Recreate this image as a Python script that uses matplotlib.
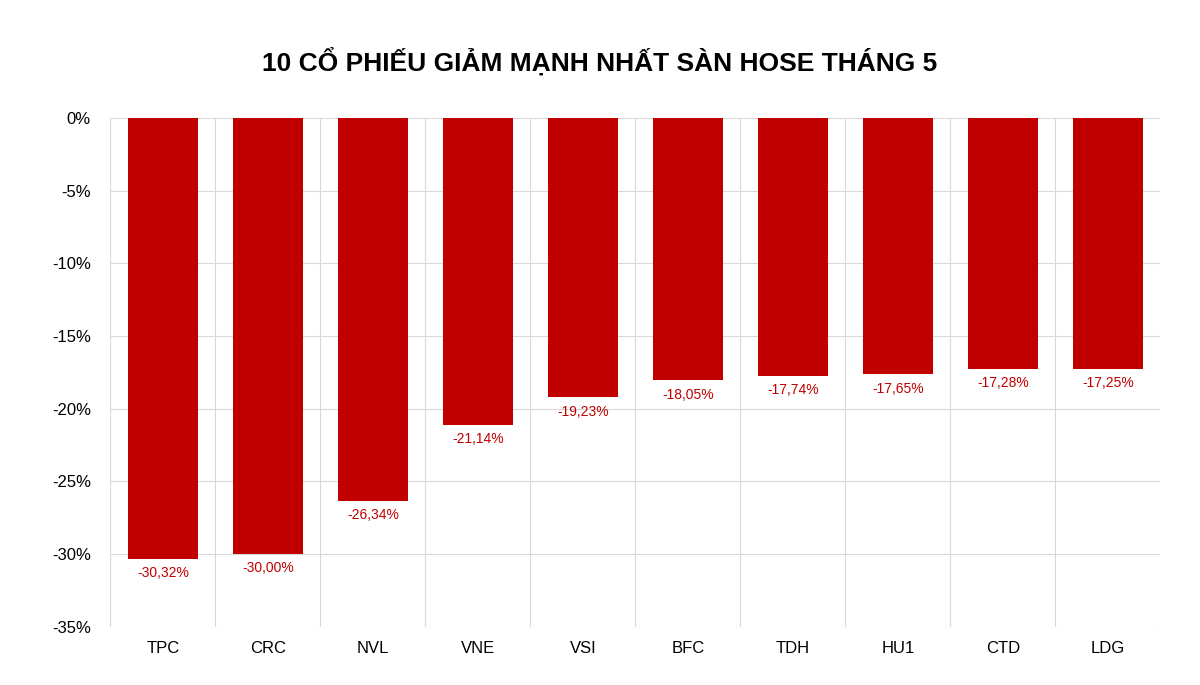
import matplotlib
matplotlib.use("Agg")
import matplotlib.pyplot as plt
import numpy as np

plt.rcParams['font.family'] = ['Liberation Sans', 'DejaVu Sans']

tickers = ['TPC', 'CRC', 'NVL', 'VNE', 'VSI', 'BFC', 'TDH', 'HU1', 'CTD', 'LDG']
changes = [-30.32, -30.00, -26.34, -21.14, -19.23, -18.05, -17.74, -17.65, -17.28, -17.25]

fig = plt.figure(figsize=(12, 6.85), dpi=100)
ax = fig.add_axes([0.092, 0.085, 0.875, 0.743])

x = np.arange(len(tickers))
ax.bar(x, changes, width=0.67, color='#C00000', zorder=3)
for xi, v in zip(x, changes):
    ax.text(xi, v - 0.5, f"{v:.2f}%".replace('.', ','), ha='center', va='top',
            fontsize=10, color='#C00000')

ax.set_xlim(-0.5, len(tickers) - 0.5)
ax.set_ylim(-35, 0)
ax.set_yticks(np.arange(-35, 1, 5))
ax.set_yticklabels([f"{t}%" for t in range(-35, 1, 5)], fontsize=12)
ax.set_xticks(x)
ax.set_xticklabels(tickers, fontsize=12)
ax.set_xticks(np.arange(-0.5, len(tickers), 1), minor=True)
ax.grid(axis='y', color='#d9d9d9', lw=0.8, zorder=0)
ax.grid(axis='x', which='minor', color='#d9d9d9', lw=0.8, zorder=0)
ax.tick_params(which='both', length=0)
ax.tick_params(axis='x', pad=10)
ax.tick_params(axis='y', pad=14)
for s in ax.spines.values():
    s.set_visible(False)

fig.text(0.5, 0.91, "10 CỔ PHIẾU GIẢM MẠNH NHẤT SÀN HOSE THÁNG 5", ha='center',
         va='center', fontsize=19, fontweight='bold')

fig.savefig('out.png', dpi=100, facecolor='white')
